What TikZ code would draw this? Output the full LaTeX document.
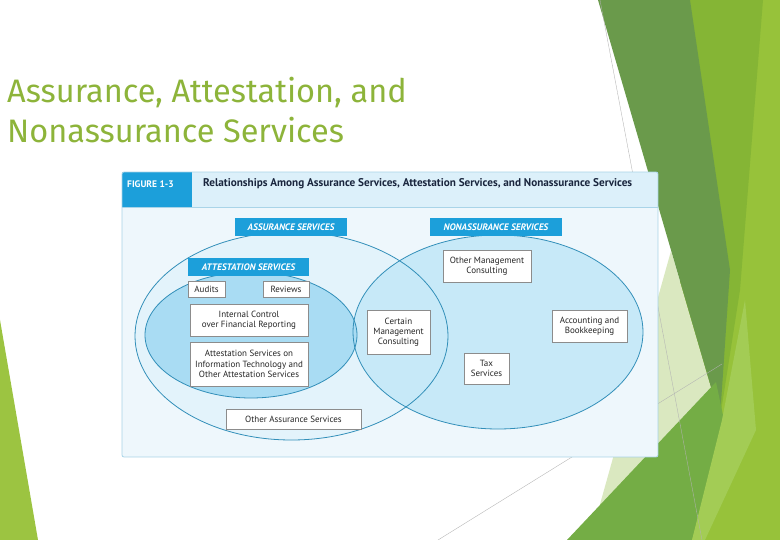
\documentclass[tikz,border=0pt]{standalone}
\usepackage{fontspec}
\setmainfont{Fira Sans}
\newfontfamily\figfont{PT Sans}
\usetikzlibrary{shadows}
\definecolor{titlegreen}{RGB}{141,180,58}
\definecolor{gdark}{RGB}{106,154,75}
\definecolor{gmed}{RGB}{133,181,53}
\definecolor{colLimeRight}{HTML}{97C23A}
\definecolor{gbottom}{RGB}{116,173,69}
\definecolor{gpale}{RGB}{218,232,192}
\definecolor{gleft}{RGB}{156,196,65}
\definecolor{gfacet}{RGB}{163,204,85}
\definecolor{figblue}{RGB}{28,159,218}
\definecolor{bodybg}{RGB}{238,247,252}
\definecolor{headbg}{RGB}{220,240,250}
\definecolor{leftfill}{RGB}{227,243,251}
\definecolor{rightfill}{RGB}{199,233,248}
\definecolor{attfill}{RGB}{169,220,243}
\definecolor{ellline}{RGB}{50,143,185}
\definecolor{panelline}{RGB}{169,212,232}
\definecolor{navy}{RGB}{26,38,62}
\begin{document}
\begin{tikzpicture}[x=1pt,y=-1pt,
  box/.style={draw=black!45, fill=white, line width=0.5pt, inner sep=1pt, align=center,
    font=\figfont\fontsize{9}{10.2}\selectfont, text=black!85,
    drop shadow={shadow xshift=0.9pt, shadow yshift=-0.9pt, fill=black!35, opacity=0.6}},
  lab/.style={fill=figblue, text=white, inner sep=0pt, font=\figfont\bfseries\itshape\fontsize{9.4}{10}\selectfont},
  ell/.style={draw=ellline, line width=0.8pt},
  facetline/.style={draw=black!30, line width=0.35pt}]
\useasboundingbox (0,0) rectangle (780,540);
\fill[white] (0,0) rectangle (780,540);
% background facets
\fill[colLimeRight] (680,0) -- (780,0) -- (780,540) -- (680,540) -- cycle;
\fill[gleft] (0,320) -- (38,540) -- (0,540) -- cycle;
\fill[gmed] (688,0) -- (763,0) -- (740,290) -- (720,418) -- cycle;
\fill[gpale] (671,251) -- (722,425) -- (590,540) -- cycle;
\fill[gdark] (598,0) -- (690,0) -- (730,270) -- (720,418) -- cycle;
\fill[gbottom] (567,540) -- (716,382) -- (724,420) -- (692,540) -- cycle;
\fill[gfacet] (722,420) -- (745,300) -- (756,430) -- (705,540) -- (692,540) -- cycle;
\coordinate (l1a) at (600,0);
\coordinate (l1b) at (702,540);
\coordinate (l2a) at (438,540);
\coordinate (l2b) at (722,364);
\draw[facetline] (l1a) -- (l1b);
\draw[facetline] (l2a) -- (l2b);
% title
\node[anchor=base west, inner sep=0pt, text=titlegreen, font=\fontsize{32.5}{36}\selectfont] (t1) at (7,103) {Assurance, Attestation, and};
\node[anchor=base west, inner sep=0pt, text=titlegreen, font=\fontsize{32.5}{36}\selectfont] (t2) at (7,143) {Nonassurance Services};
% figure panel
\fill[bodybg] (122,172) rectangle (658,457);
\fill[headbg] (122,172) rectangle (658,207);
\fill[figblue] (122,172) rectangle (192,207);
\draw[panelline, line width=0.6pt] (122,207) -- (658,207);
\draw[panelline, line width=0.8pt, rounded corners=2pt] (122,172) rectangle (658,457);
\node[anchor=west, inner sep=0pt, text=white, font=\figfont\bfseries\fontsize{9.5}{10}\selectfont] (fig) at (127,184) {FIGURE 1-3};
\node[anchor=west, inner sep=0pt, text=navy, font=\figfont\bfseries\fontsize{11.2}{12}\selectfont] (hdr) at (203,184) {Relationships Among Assurance Services, Attestation Services, and Nonassurance Services};
% ellipses
\fill[leftfill] (291.5,336) ellipse [x radius=156.5pt, y radius=104pt];
\fill[rightfill] (498,332) ellipse [x radius=145pt, y radius=97pt];
\fill[attfill] (251,335) ellipse [x radius=106pt, y radius=63pt];
\draw[ell] (291.5,336) ellipse [x radius=156.5pt, y radius=104pt];
\draw[ell] (498,332) ellipse [x radius=145pt, y radius=97pt];
\draw[ell] (251,335) ellipse [x radius=106pt, y radius=63pt];
% labels
\node[lab, minimum width=112pt, minimum height=18pt] (asl) at (291,227) {ASSURANCE SERVICES};
\node[lab, minimum width=132pt, minimum height=18pt] (nasl) at (496,227) {NONASSURANCE SERVICES};
\node[lab, minimum width=121pt, minimum height=18pt] (atl) at (248.5,267) {ATTESTATION SERVICES};
% boxes
\node[box, minimum width=37pt, minimum height=16pt] (audits) at (206.5,289) {Audits};
\node[box, minimum width=46pt, minimum height=16pt] (reviews) at (286,289) {Reviews};
\node[box, minimum width=118pt, minimum height=32pt] (icfr) at (249,320) {Internal Control\\over Financial Reporting};
\node[box, minimum width=118pt, minimum height=44pt] (attit) at (249,364) {Attestation Services on\\Information Technology and\\Other Attestation Services};
\node[box, minimum width=135pt, minimum height=20pt] (oas) at (293.5,419) {Other Assurance Services};
\node[box, minimum width=63pt, minimum height=44pt] (cmc) at (398.5,332) {Certain\\Management\\Consulting};
\node[box, minimum width=88pt, minimum height=32pt] (omc) at (487,266) {Other Management\\Consulting};
\node[box, minimum width=75pt, minimum height=32pt] (acc) at (589.5,326) {Accounting and\\Bookkeeping};
\node[box, minimum width=45pt, minimum height=31pt] (tax) at (486.5,368.5) {Tax\\Services};
\end{tikzpicture}
\end{document}
